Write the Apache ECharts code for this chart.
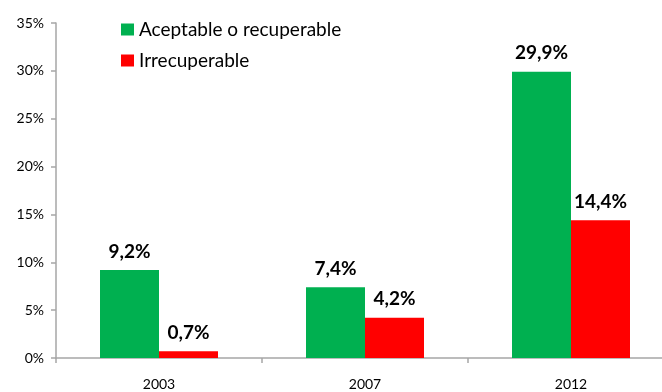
<!DOCTYPE html>
<html>
<head>
<meta charset="utf-8">
<script src="https://cdn.jsdelivr.net/npm/echarts@6/dist/echarts.min.js"></script>
<style>
  html, body { margin: 0; padding: 0; background: #fff; overflow: hidden; }
  #wrap { width: 662px; height: 392px; overflow: hidden; }
  /* The plot runs a little past the right edge of the frame */
  #chart { width: 680px; height: 392px; }
</style>
</head>
<body>
<div id="wrap"><div id="chart"></div></div>
<script>
// Survey years and shares (percent) per condition
const years = ['2003', '2007', '2012'];
const acceptable = [9.2, 7.4, 29.9];
const unrecoverable = [0.7, 4.2, 14.4];
const seriesNames = ['Aceptable o recuperable', 'Irrecuperable'];
const yTicks = { min: 0, max: 35, interval: 5 };

const FONT = 'Lato, "Open Sans", sans-serif';
const axisGray = '#a6a6a6';

const fmt = v => v.toFixed(1).replace('.', ',') + '%';

const chart = echarts.init(document.getElementById('chart'), null, { renderer: 'canvas' });

const labelStyle = {
  show: true,
  position: 'top',
  distance: 9,
  fontFamily: FONT,
  fontWeight: 'bold',
  fontSize: 19,
  color: '#000',
  formatter: p => fmt(p.value)
};

chart.setOption({
  animation: false,
  textStyle: { fontFamily: FONT },
  legend: {
    orient: 'vertical',
    left: 121,
    top: 20,
    padding: 0,
    itemWidth: 13,
    itemHeight: 12,
    itemGap: 12,
    icon: 'rect',
    textStyle: { fontFamily: FONT, fontSize: 19, color: '#000', padding: [0, 0, 0, 0] },
    data: seriesNames
  },
  grid: { left: 56, top: 23, width: 618, height: 335, containLabel: false },
  xAxis: {
    type: 'category',
    data: years,
    axisLine: { lineStyle: { color: axisGray, width: 1.5 } },
    axisTick: { show: true, length: 5, lineStyle: { color: axisGray, width: 1.5 } },
    axisLabel: { color: '#000', fontFamily: FONT, fontSize: 14, margin: 19 }
  },
  yAxis: {
    type: 'value',
    min: yTicks.min,
    max: yTicks.max,
    interval: yTicks.interval,
    splitLine: { show: false },
    axisLine: { show: true, lineStyle: { color: axisGray, width: 1.5 } },
    axisTick: { show: true, length: 5, lineStyle: { color: axisGray, width: 1.5 } },
    axisLabel: { color: '#000', fontFamily: FONT, fontSize: 14, margin: 12, formatter: '{value}%' }
  },
  series: [
    {
      name: seriesNames[0],
      type: 'bar',
      data: acceptable,
      barWidth: 59,
      barGap: '0%',
      itemStyle: { color: '#00b050' },
      label: labelStyle
    },
    {
      name: seriesNames[1],
      type: 'bar',
      data: unrecoverable,
      barWidth: 59,
      barGap: '0%',
      itemStyle: { color: '#ff0000' },
      label: labelStyle
    }
  ]
});
</script>
</body>
</html>
